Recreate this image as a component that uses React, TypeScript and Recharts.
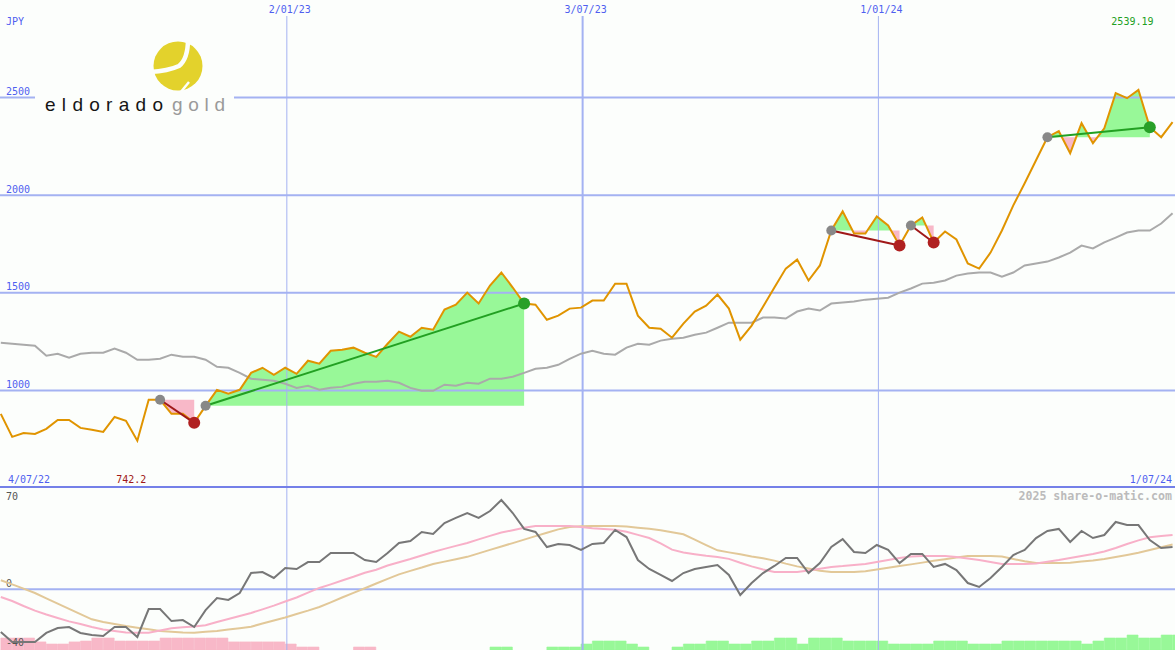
import React from 'react';
import { ComposedChart, Line, Area, Bar, Cell, XAxis, YAxis, ReferenceLine } from 'recharts';

// ---------- data ----------
const startLabel = '4/07/22';
const endLabel = '1/07/24';
const currency = 'JPY';
const firstDay = 6; // days after 4/07/22 of the first weekly close
const xDomain: [number, number] = [5.5, 728.5];

const price = [
  880, 762, 782, 777, 803, 849, 849, 808, 798, 787,
  864, 844, 742.2, 952, 952, 880, 880, 834, 921, 1003,
  983, 1003, 1090, 1116, 1080, 1116, 1085, 1152, 1137, 1203,
  1208, 1219, 1193, 1172, 1239, 1301, 1275, 1321, 1311, 1414,
  1439, 1501, 1445, 1537, 1604, 1527, 1445, 1439, 1362, 1383,
  1419, 1424, 1460, 1460, 1547, 1547, 1383, 1321, 1316, 1270,
  1342, 1404, 1434, 1491, 1419, 1260, 1332, 1429, 1527, 1624,
  1670, 1563, 1640, 1819, 1917, 1804, 1804, 1891, 1845, 1742,
  1845, 1886, 1758, 1814, 1773, 1650, 1624, 1706, 1819, 1948,
  2061, 2179, 2297, 2328, 2215, 2369, 2266, 2343, 2523, 2497,
  2539.19, 2348, 2297, 2374,
];

const movingAvg = [
  1244, 1239, 1234, 1229, 1178, 1188, 1167, 1188, 1193, 1193,
  1214, 1193, 1157, 1157, 1162, 1183, 1172, 1172, 1157, 1121,
  1116, 1090, 1060, 1054, 1049, 1034, 1013, 1024, 1003, 1013,
  1018, 1034, 1044, 1044, 1049, 1039, 1013, 998, 998, 1029,
  1024, 1039, 1034, 1060, 1060, 1070, 1090, 1111, 1116, 1131,
  1162, 1188, 1203, 1188, 1183, 1219, 1239, 1234, 1255, 1265,
  1270, 1285, 1296, 1321, 1347, 1347, 1347, 1373, 1373, 1368,
  1404, 1419, 1409, 1445, 1450, 1455, 1465, 1470, 1475, 1501,
  1522, 1547, 1552, 1563, 1588, 1599, 1604, 1604, 1583, 1604,
  1640, 1650, 1660, 1681, 1706, 1742, 1727, 1758, 1783, 1809,
  1819, 1819, 1855, 1907,
];

const oscMain = [
  -29.6, -36.5, -36.5, -36.5, -30.2, -26.8, -26.1, -30.2, -31.6, -32.3,
  -26.1, -26.1, -33.0, -13.7, -13.7, -22.0, -21.3, -26.1, -14.4, -6.1,
  -7.4, -2.6, 11.2, 11.9, 7.8, 14.7, 14.0, 18.8, 18.8, 25.1,
  25.1, 25.1, 20.2, 18.8, 25.1, 32.0, 33.4, 39.6, 38.2, 45.8,
  49.3, 52.7, 49.3, 54.1, 61.7, 52.7, 41.7, 39.6, 29.2, 31.3,
  30.6, 27.2, 31.3, 32.0, 41.0, 36.1, 20.2, 14.0, 9.9, 5.7,
  11.2, 14.0, 15.4, 16.8, 9.9, -4.0, 4.3, 11.2, 16.1, 21.6,
  21.6, 11.2, 18.1, 29.2, 34.7, 25.8, 25.1, 30.6, 27.2, 18.1,
  24.4, 24.4, 15.4, 17.5, 13.3, 4.3, 1.6, 7.8, 15.4, 23.7,
  27.2, 35.4, 40.3, 41.7, 32.7, 40.3, 35.4, 37.5, 46.5, 44.4,
  44.4, 34.0, 28.5, 29.2,
];

const oscSignal = [
  -5.4, -8.1, -11.6, -14.8, -17.5, -19.9, -22.2, -24.0, -26.1, -27.8,
  -28.9, -29.9, -30.1, -30.0, -28.5, -26.9, -26.3, -25.7, -24.9, -22.6,
  -20.6, -18.5, -16.4, -13.9, -11.3, -8.5, -5.7, -2.3, 0.9, 3.4,
  6.0, 8.6, 11.4, 13.5, 16.4, 18.7, 20.9, 23.3, 25.8, 27.9,
  30.0, 32.0, 34.5, 36.9, 39.2, 40.8, 42.5, 43.8, 43.8, 43.8,
  43.8, 43.0, 42.1, 41.7, 41.2, 39.7, 37.6, 35.4, 31.7, 27.4,
  25.4, 24.2, 23.1, 22.3, 21.0, 18.3, 15.8, 13.7, 11.9, 11.9,
  11.9, 12.9, 14.1, 15.4, 16.0, 16.8, 17.5, 18.8, 20.2, 21.6,
  22.6, 23.0, 23.0, 23.0, 22.3, 21.3, 20.2, 18.8, 17.5, 17.5,
  17.5, 17.8, 19.0, 20.2, 21.6, 23.0, 24.4, 26.1, 28.5, 31.3,
  33.8, 35.9, 36.8, 37.5,
];

const oscSlow = [
  6.2, 3.4, 0.4, -2.6, -6.3, -9.9, -13.6, -17.2, -20.8, -22.6,
  -24.0, -25.4, -26.6, -27.7, -28.9, -29.4, -29.9, -30.1, -29.4, -28.9,
  -27.9, -26.9, -25.9, -23.7, -21.6, -19.5, -17.1, -14.8, -12.3, -9.1,
  -5.7, -2.5, 0.7, 4.0, 7.2, 10.3, 12.7, 15.0, 17.5, 19.1,
  20.8, 22.4, 24.8, 27.2, 29.6, 31.9, 34.3, 36.7, 39.1, 41.4,
  43.1, 43.6, 43.7, 43.7, 43.7, 43.3, 42.6, 41.8, 40.8, 39.4,
  38.0, 34.3, 30.5, 26.9, 25.5, 24.2, 22.7, 21.4, 19.8, 17.7,
  15.8, 14.3, 12.8, 11.9, 11.9, 11.9, 12.5, 13.7, 14.8, 16.0,
  17.2, 18.4, 19.7, 20.8, 22.0, 23.0, 23.0, 23.0, 22.6, 20.9,
  19.3, 18.1, 18.1, 18.1, 18.4, 19.2, 19.9, 20.9, 22.3, 23.7,
  25.2, 27.1, 29.0, 31.0,
];

const histogram = [
  -4, -4, -4, -2.7, -2, -2, -2.7, -3, -4, -4,
  -3, -3, -3, -3, -4, -4, -4, -4, -4, -4,
  -2.7, -2.7, -2.7, -2.7, -2.7, -2, -1, -1, 0, 0,
  0, -1, -1, 0, 0, 0, 0, 0, 0, 0,
  0, 0, 0, 1, 1, 0, 0, 0, 1, 1,
  1, 2, 3, 3, 3, 2, 1, 0, 0, 1,
  2, 2, 3, 3, 2, 2, 3, 3, 4, 4,
  2, 4, 4, 4, 3, 3, 3, 3, 2, 2,
  2, 2, 3, 3, 3, 2, 2, 2, 3, 3,
  3, 3, 3, 3, 3, 2, 3, 4, 4, 5,
  4, 4, 5, 5,
];

const priceTicks = [1000, 1500, 2000, 2500];
const oscLabels = [
  { v: 70, text: '70', dy: 12 },
  { v: 0, text: '0', dy: -2 },
  { v: -40, text: '-40', dy: -1 },
];
const dateLines = [
  { day: 182, label: '2/01/23', thick: false },
  { day: 364, label: '3/07/23', thick: true },
  { day: 546, label: '1/01/24', thick: false },
];
const signals = [
  { from: 14, to: 17, kind: 'bear' },
  { from: 18, to: 46, kind: 'bull' },
  { from: 73, to: 79, kind: 'bear' },
  { from: 80, to: 82, kind: 'bear' },
  { from: 92, to: 101, kind: 'bull' },
];

// ---------- styles ----------
const BG = '#fcfefc';
const GRID = '#a4b2f2';
const SEP = '#7480e8';
const BLUE_TXT = '#4f5ff0';
const ORANGE = '#e09400';
const MA_GRAY = '#aaaaaa';
const GREEN_FILL = '#98f898';
const PINK_FILL = '#f8b8c8';
const GREEN_LINE = '#22a022';
const RED_LINE = '#a01818';
const GRAY_DOT = '#888888';
const RED_DOT = '#b02020';
const GREEN_DOT = '#28a028';
const OSC_MAIN = '#777777';
const OSC_SIG = '#f8b0c8';
const OSC_SLOW = '#e2c898';
const LOGO_YELLOW = '#e3d22c';
const MONO = '"DejaVu Sans Mono", monospace';
const GRID_TOP = 2918;
const W = 1175;
const TOP_H = 488;
const BOT_H = 162;

// ---------- derived tables ----------
const dayOf = (j: number) => firstDay + 7 * j;

type Row = Record<string, any>;
const topRows: Row[] = price.map((p, j) => ({ x: dayOf(j), price: p, ma: movingAvg[j] }));
const crossRows: Row[] = [];
signals.forEach((s, k) => {
  const base = price[s.from];
  for (let j = s.from; j <= s.to; j++) {
    topRows[j][`up${k}`] = [base, Math.max(price[j], base)];
    topRows[j][`dn${k}`] = [Math.min(price[j], base), base];
  }
  topRows[s.from][`tr${k}`] = base;
  topRows[s.to][`tr${k}`] = price[s.to];
  for (let j = s.from; j < s.to; j++) {
    const a = price[j] - base;
    const b = price[j + 1] - base;
    if (a * b < 0) {
      const t = a / (a - b);
      crossRows.push({
        x: dayOf(j) + 7 * t,
        price: base,
        [`up${k}`]: [base, base],
        [`dn${k}`]: [base, base],
      });
    }
  }
});
const topData = [...topRows, ...crossRows].sort((a, b) => a.x - b.x);

const lowIdx = price.indexOf(Math.min(...price));
const highIdx = price.indexOf(Math.max(...price));

const oscData = oscMain.map((v, j) => ({
  x: dayOf(j),
  mid: dayOf(j) + 3.5,
  osc: v,
  sig: oscSignal[j],
  slow: oscSlow[j],
  hist: Math.abs(histogram[j]),
  neg: histogram[j] < 0,
}));

const txt = (extra: any = {}) => ({ fontFamily: MONO, fontSize: 10, ...extra });

function Logo() {
  return (
    <g>
      <rect x={35} y={36} width={199} height={82} fill={BG} />
      <circle cx={178} cy={66} r={24.5} fill={LOGO_YELLOW} />
      <path d="M 150 72 Q 168 71 179 66 Q 188 59 188 39" stroke={BG} strokeWidth={4.5} fill="none" />
      <path d="M 180 93 L 189 82" stroke={BG} strokeWidth={2.5} fill="none" />
      <text x={45} y={111} fontFamily="'Liberation Sans', Arial, sans-serif" fontSize={19}
        fill="#151515" textLength={118} lengthAdjust="spacing">eldorado</text>
      <text x={172} y={111} fontFamily="'Liberation Sans', Arial, sans-serif" fontSize={19}
        fill="#9a9a9a" textLength={53} lengthAdjust="spacing">gold</text>
    </g>
  );
}

export default function App() {
  return (
    <div style={{ position: 'absolute', left: 0, top: 0, width: W, height: 650, background: BG, overflow: 'hidden' }}>
      <div style={{ position: 'absolute', left: 0, top: 0 }}>
        <ComposedChart width={W} height={TOP_H} data={topData} margin={{ top: 0, right: 0, bottom: 0, left: 0 }}>
          <XAxis dataKey="x" type="number" domain={xDomain} hide allowDataOverflow />
          <YAxis type="number" domain={[500, 3000]} hide allowDataOverflow />
          {priceTicks.map((v) => (
            <ReferenceLine key={`p${v}`} y={v} stroke={GRID} strokeWidth={2}
              label={(p: any) => (
                <text x={p.viewBox.x + 6} y={p.viewBox.y - 2.5} fill={BLUE_TXT} {...txt()}>{v}</text>
              )} />
          ))}
          {dateLines.map((d) => (
            <ReferenceLine key={`d${d.day}`} segment={[{ x: d.day, y: 500 }, { x: d.day, y: GRID_TOP }]}
              stroke={GRID} strokeWidth={d.thick ? 2 : 1}
              label={(p: any) => (
                <text x={p.viewBox.x + 3} y={p.viewBox.y - 3.5} textAnchor="middle" fill={BLUE_TXT} {...txt()}>{d.label}</text>
              )} />
          ))}
          <ReferenceLine x={dayOf(lowIdx)} stroke="none"
            label={(p: any) => (
              <text x={p.viewBox.x - 6} y={p.viewBox.y + p.viewBox.height - 5} textAnchor="middle" fill={RED_LINE} {...txt()}>{price[lowIdx].toFixed(1)}</text>
            )} />
          <ReferenceLine x={dayOf(highIdx)} stroke="none"
            label={(p: any) => (
              <text x={p.viewBox.x - 6} y={p.viewBox.y + 25} textAnchor="middle" fill={GREEN_LINE} {...txt()}>{price[highIdx].toFixed(2)}</text>
            )} />
          {signals.map((s, k) => (
            <Area key={`up${k}`} type="linear" dataKey={`up${k}`} stroke="none" fill={GREEN_FILL}
              fillOpacity={1} isAnimationActive={false} dot={false} activeDot={false} />
          ))}
          {signals.map((s, k) => (
            <Area key={`dn${k}`} type="linear" dataKey={`dn${k}`} stroke="none" fill={PINK_FILL}
              fillOpacity={1} isAnimationActive={false} dot={false} activeDot={false} />
          ))}
          <Line type="linear" dataKey="ma" stroke={MA_GRAY} strokeWidth={2} dot={false} activeDot={false}
            connectNulls isAnimationActive={false} />
          <Line type="linear" dataKey="price" stroke={ORANGE} strokeWidth={2} dot={false} activeDot={false}
            isAnimationActive={false} />
          {signals.map((s, k) => (
            <Line key={`tr${k}`} type="linear" dataKey={`tr${k}`} connectNulls
              stroke={s.kind === 'bull' ? GREEN_LINE : RED_LINE} strokeWidth={2}
              isAnimationActive={false} activeDot={false}
              dot={(p: any) => {
                const v = p.payload ? p.payload[`tr${k}`] : null;
                if (v == null || p.cy == null) return <g key={`e${k}-${p.index}`} />;
                const isStart = p.payload.x === dayOf(s.from);
                const fill = isStart ? GRAY_DOT : s.kind === 'bull' ? GREEN_DOT : RED_DOT;
                return <circle key={`c${k}-${p.index}`} cx={p.cx} cy={p.cy} r={isStart ? 5 : 6} fill={fill} />;
              }} />
          ))}
        </ComposedChart>
      </div>

      <div style={{ position: 'absolute', left: 0, top: TOP_H }}>
        <ComposedChart width={W} height={BOT_H} data={oscData} barCategoryGap={0} barGap={0}
          margin={{ top: 0, right: 0, bottom: 0, left: 0 }}>
          <XAxis xAxisId="l" dataKey="x" type="number" domain={xDomain} hide allowDataOverflow />
          <XAxis xAxisId="b" dataKey="mid" type="number" domain={xDomain} hide allowDataOverflow />
          <YAxis yAxisId="o" type="number" domain={[-42, 70]} hide allowDataOverflow />
          <YAxis yAxisId="h" type="number" domain={[0, 54]} hide allowDataOverflow />
          {oscLabels.map((o) => (
            <ReferenceLine key={`o${o.v}`} xAxisId="l" yAxisId="o" y={o.v}
              stroke={o.v === 0 ? GRID : 'none'} strokeWidth={2}
              label={(p: any) => (
                <text x={p.viewBox.x + 6} y={p.viewBox.y + o.dy} fill="#555555" {...txt()}>{o.text}</text>
              )} />
          ))}
          {dateLines.map((d) => (
            <ReferenceLine key={`bd${d.day}`} xAxisId="l" yAxisId="o" x={d.day}
              stroke={GRID} strokeWidth={d.thick ? 2 : 1} />
          ))}
          <Bar xAxisId="b" yAxisId="h" dataKey="hist" isAnimationActive={false} activeBar={false}>
            {oscData.map((d, i) => (
              <Cell key={`h${i}`} fill={d.neg ? PINK_FILL : GREEN_FILL} stroke={d.neg ? PINK_FILL : GREEN_FILL} strokeWidth={0.6} />
            ))}
          </Bar>
          <Line xAxisId="l" yAxisId="o" type="linear" dataKey="slow" stroke={OSC_SLOW} strokeWidth={2}
            dot={false} activeDot={false} isAnimationActive={false} />
          <Line xAxisId="l" yAxisId="o" type="linear" dataKey="sig" stroke={OSC_SIG} strokeWidth={2}
            dot={false} activeDot={false} isAnimationActive={false} />
          <Line xAxisId="l" yAxisId="o" type="linear" dataKey="osc" stroke={OSC_MAIN} strokeWidth={2}
            dot={false} activeDot={false} isAnimationActive={false} />
        </ComposedChart>
      </div>

      <div style={{ position: 'absolute', left: 0, top: 486, width: W, height: 2, background: SEP }} />

      <svg width={W} height={650} style={{ position: 'absolute', left: 0, top: 0, pointerEvents: 'none' }}>
        <Logo />
        <text x={6} y={24.5} fill={BLUE_TXT} {...txt()}>{currency}</text>
        <text x={8} y={483} fill={BLUE_TXT} {...txt()}>{startLabel}</text>
        <text x={1172} y={483} textAnchor="end" fill={BLUE_TXT} {...txt()}>{endLabel}</text>
        <text x={1172} y={500} textAnchor="end" fill="#bbbbbb" fontFamily={MONO} fontSize={11.6} fontWeight="bold">2025 share-o-matic.com</text>
      </svg>
    </div>
  );
}
